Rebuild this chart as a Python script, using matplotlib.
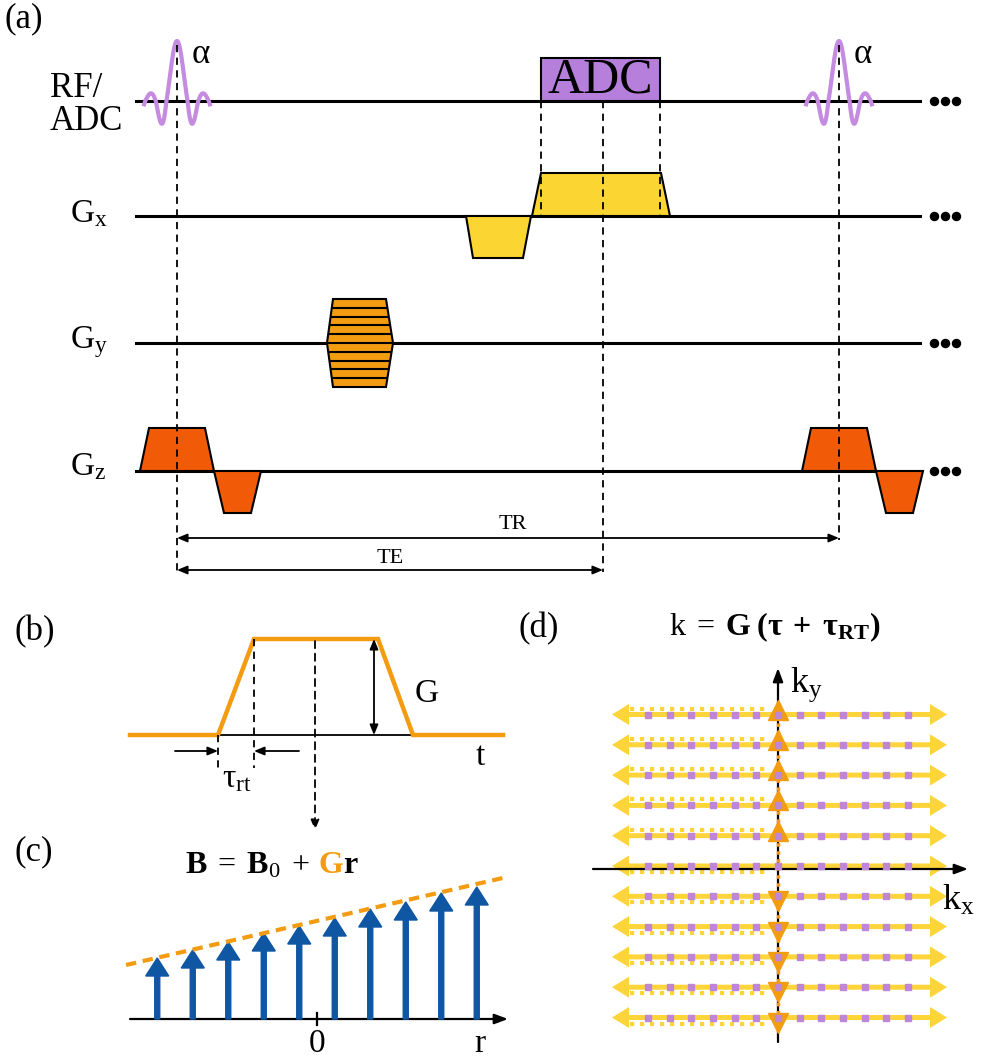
import matplotlib
matplotlib.use("Agg")
import matplotlib.pyplot as plt
import numpy as np
from matplotlib.patches import Polygon, Rectangle

plt.rcParams['font.family'] = ['Liberation Serif', 'DejaVu Serif']
plt.rcParams['mathtext.fontset'] = 'custom'
plt.rcParams['mathtext.rm'] = 'Liberation Serif'
plt.rcParams['mathtext.it'] = 'Liberation Serif:italic'
plt.rcParams['mathtext.bf'] = 'Liberation Serif:bold'

# ---- (a) pulse sequence, time / amplitude in layout units ----
rf_centers = [177, 839]
adc_win = [541, 660]
te_time = 603
row_y = {'rf': 101, 'gx': 216, 'gy': 343, 'gz': 471}
gx_pre_t = [466, 473, 523, 531]
gx_pre_a = [0, -42, -42, 0]
gx_ro_t = [532, 541, 661, 670]
gx_ro_a = [0, 43, 43, 0]
gy_t = [327, 333, 386, 393]
gy_amp = 44
n_pe = 10
gz_ss_t = [140, 149, 205, 214]
gz_ss_a = [0, 43, 43, 0]
gz_rw_t = [214, 224, 251, 261]
gz_rw_a = [0, -42, -42, 0]

# ---- (b) single gradient lobe ----
trap_t = [130, 218, 254, 378, 413, 503]
trap_a = [0, 0, 96, 96, 0, 0]
trap_base = 735

# ---- (c) field along r ----
r_pos = [-4.5, -3.5, -2.5, -1.5, -0.5, 0.5, 1.5, 2.5, 3.5, 4.5]
B_vals = [61, 69, 77, 86, 93, 101, 110, 117, 126, 132]

# ---- (d) k-space ----
ky_lines = [-5, -4, -3, -2, -1, 0, 1, 2, 3, 4, 5]
kx_samples = [-6, -5, -4, -3, -2, -1, 0, 1, 2, 3, 4, 5, 6]

c_rf = '#c48be0'
c_adc = '#b57fdb'
c_gx = '#fbd532'
c_gy = '#f39c12'
c_gz = '#f15a06'
c_blue = '#0f56a3'
c_yel = '#fdd43a'

fig = plt.figure(figsize=(9.81, 10.58), dpi=100)
ax = fig.add_axes([0, 0, 1, 1])
ax.set_xlim(0, 981)
ax.set_ylim(1058, 0)
ax.axis('off')

def lab(x, y, s, size=25, **kw):
    return ax.text(x, y, s, fontsize=size, va='baseline', ha='left', **kw)

def lobe(ts, amps, base, color, shift=0):
    pts = [(t + shift, base - a) for t, a in zip(ts, amps)]
    ax.add_patch(Polygon(pts, closed=True, fc=color, ec='black', lw=1.5, zorder=3))

# ---------------- panel (a) ----------------
lab(5, 27, '(a)')
lab(50, 97, 'RF/')
lab(50, 130, 'ADC')
lab(70, 222, r'$\mathrm{G_x}$', 24)
lab(70, 348, r'$\mathrm{G_y}$', 24)
lab(70, 475, r'$\mathrm{G_z}$', 24)

for key, y in row_y.items():
    ax.plot([136, 920], [y, y], color='black', lw=2.2, zorder=2)
    ax.plot([934, 945, 956], [y, y, y], 'o', color='black', ms=5.8, zorder=2)

tt = np.linspace(-3.1, 3.1, 200)
s = np.sinc(tt)
s = np.where(s < 0, 1.75 * s, s)
for c in rf_centers:
    ax.plot(c + tt * 10.6, row_y['rf'] - 60 * s, color=c_rf, lw=3, zorder=4)
    lab(c + 15, 63, 'α')

ax.add_patch(Rectangle((adc_win[0], row_y['rf'] - 43), adc_win[1] - adc_win[0], 43,
                       fc=c_adc, ec='black', lw=1.5, zorder=3))
ax.text(sum(adc_win) / 2, row_y['rf'] - 21, 'ADC', fontsize=36, ha='center', va='center', zorder=4)

lobe(gx_pre_t, gx_pre_a, row_y['gx'], c_gx)
lobe(gx_ro_t, gx_ro_a, row_y['gx'], c_gx)

yb = row_y['gy']
hexa = Polygon([(gy_t[0], yb), (gy_t[1], yb - gy_amp), (gy_t[2], yb - gy_amp), (gy_t[3], yb),
                (gy_t[2], yb + gy_amp), (gy_t[1], yb + gy_amp)], closed=True,
               fc=c_gy, ec='black', lw=1.5, zorder=3)
ax.add_patch(hexa)
for yy in np.linspace(yb - gy_amp, yb + gy_amp, n_pe + 1)[1:-1]:
    ln, = ax.plot([gy_t[0], gy_t[3]], [yy, yy], color='black', lw=1.5, zorder=4)
    ln.set_clip_path(hexa)

tr = rf_centers[1] - rf_centers[0]
for sh in [0, tr]:
    lobe(gz_ss_t, gz_ss_a, row_y['gz'], c_gz, sh)
    lobe(gz_rw_t, gz_rw_a, row_y['gz'], c_gz, sh)

dash = dict(color='black', lw=1.3, ls=(0, (4, 3)), zorder=5)
ax.plot([rf_centers[0]] * 2, [45, 572], **dash)
ax.plot([rf_centers[1]] * 2, [45, 540], **dash)
ax.plot([te_time] * 2, [row_y['rf'], 572], **dash)
for x in adc_win:
    ax.plot([x, x], [row_y['rf'], row_y['gx']], **dash)

arr = dict(arrowstyle='<|-|>,head_length=0.6,head_width=0.25', color='black', lw=1.3,
           shrinkA=0, shrinkB=0)
ax.annotate('', xy=(rf_centers[1], 538), xytext=(rf_centers[0], 538), arrowprops=arr)
ax.annotate('', xy=(te_time, 570), xytext=(rf_centers[0], 570), arrowprops=arr)
ax.text((rf_centers[0] + rf_centers[1]) / 2 + 5, 529, 'TR', fontsize=16, ha='center', va='baseline')
ax.text((rf_centers[0] + te_time) / 2, 563, 'TE', fontsize=16, ha='center', va='baseline')

# ---------------- panel (b) ----------------
lab(15, 640, '(b)')
ax.plot([trap_t[1], trap_t[4]], [trap_base, trap_base], color='black', lw=1.3, zorder=2)
ax.plot(trap_t, [trap_base - a for a in trap_a], color=c_gy, lw=3.2, zorder=3,
        solid_joinstyle='miter')
top = trap_base - trap_a[2]
ax.plot([trap_t[1]] * 2, [trap_base, 768], **dash)
ax.plot([trap_t[2]] * 2, [top, 768], **dash)
mid = (trap_t[2] + trap_t[3]) / 2 - 1
ax.annotate('', xy=(mid, 830), xytext=(mid, top + 2),
            arrowprops=dict(arrowstyle='-|>,head_length=0.6,head_width=0.25', color='black',
                            lw=1.3, ls=(0, (4, 3)), shrinkA=0, shrinkB=0))
ax.annotate('', xy=(374, trap_base), xytext=(374, top), arrowprops=arr)
ax.annotate('', xy=(trap_t[1], 751), xytext=(175, 751),
            arrowprops=dict(arrowstyle='-|>,head_length=0.6,head_width=0.25', color='black',
                            lw=1.3, shrinkA=0, shrinkB=0))
ax.annotate('', xy=(trap_t[2], 751), xytext=(299, 751),
            arrowprops=dict(arrowstyle='-|>,head_length=0.6,head_width=0.25', color='black',
                            lw=1.3, shrinkA=0, shrinkB=0))
lab(415, 702, 'G', 24)
lab(476, 765, 't', 24)
lab(222, 787, r'$\mathrm{\tau_{rt}}$', 24)

# ---------------- panel (c) ----------------
lab(15, 860, '(c)')
x0c, yc, sc = 317, 1019, 35.5
ax.annotate('', xy=(508, yc), xytext=(130, yc),
            arrowprops=dict(arrowstyle='-|>,head_length=0.8,head_width=0.3', color='black',
                            lw=1.6, shrinkA=0, shrinkB=0))
ax.plot([x0c, x0c], [yc - 6, yc + 6], color='black', lw=1.6)
ax.text(x0c, 1052, '0', fontsize=24, ha='center', va='baseline')
lab(474, 1052, 'r', 24)
for r, b in zip(r_pos, B_vals):
    ax.arrow(x0c + r * sc, yc, 0, -b, width=5, head_width=23, head_length=18,
             length_includes_head=True, color=c_blue, zorder=3)
ax.plot([126, 507], [965, 877], color=c_gy, lw=3, ls=(0, (2.5, 1.6)), zorder=4)

fig.canvas.draw()
rend = fig.canvas.get_renderer()
x = 185
for txt, col, gap in [(r'$\mathbf{B}\;=\;\mathbf{B}_0\;+$', 'black', 9), ('G', c_gy, 0), ('r', 'black', 0)]:
    t = ax.text(x, 873, txt, fontsize=23, color=col, fontweight='bold', va='baseline', ha='left')
    x += t.get_window_extent(rend).width + gap

# ---------------- panel (d) ----------------
lab(518, 637, '(d)')
ax.text(775, 635, r'$\mathrm{k}\;=\;\mathbf{G}\;\mathbf{(\tau\;+\;\tau_{RT})}$', fontsize=23,
        ha='center', va='baseline')
kx0, ky0, dkx, dky = 778, 866, 21.67, 30.3
for j in ky_lines:
    y = ky0 + j * dky
    ax.arrow(kx0, y, 169, 0, width=5, head_width=21, head_length=17,
             length_includes_head=True, color=c_yel, lw=0, zorder=2)
    ax.arrow(kx0, y, -166, 0, width=5, head_width=21, head_length=17,
             length_includes_head=True, color=c_yel, lw=0, zorder=2)
    off = -6 if j < 0 else 6
    ax.plot([630, 768], [y + off, y + off], color=c_yel, lw=3, ls=(0, (1, 1.4)), zorder=2)
    if j != 0:
        ax.plot(kx0, y - 5 if j < 0 else y + 5, '^' if j < 0 else 'v', color=c_gy, ms=14, zorder=4)
    ax.plot([kx0 + i * dkx for i in kx_samples], [y] * len(kx_samples), 's',
            color='#bf86d8', ms=5, zorder=6)

ax.annotate('', xy=(968, 869), xytext=(593, 869),
            arrowprops=dict(arrowstyle='-|>,head_length=0.8,head_width=0.3', color='black',
                            lw=1.6, shrinkA=0, shrinkB=0), zorder=3)
ax.annotate('', xy=(kx0, 668), xytext=(kx0, 1042),
            arrowprops=dict(arrowstyle='-|>,head_length=0.8,head_width=0.3', color='black',
                            lw=1.6, shrinkA=0, shrinkB=0), zorder=3)
ax.plot([kx0, kx0], [ky0 + ky_lines[0] * dky, ky0 + ky_lines[-1] * dky], color=c_gy,
        lw=2.5, ls=(0, (1, 1.3)), zorder=5)
lab(790, 692, r'$\mathrm{k_y}$', 26)
lab(942, 910, r'$\mathrm{k_x}$', 26)

fig.savefig('out.png', dpi=100)
